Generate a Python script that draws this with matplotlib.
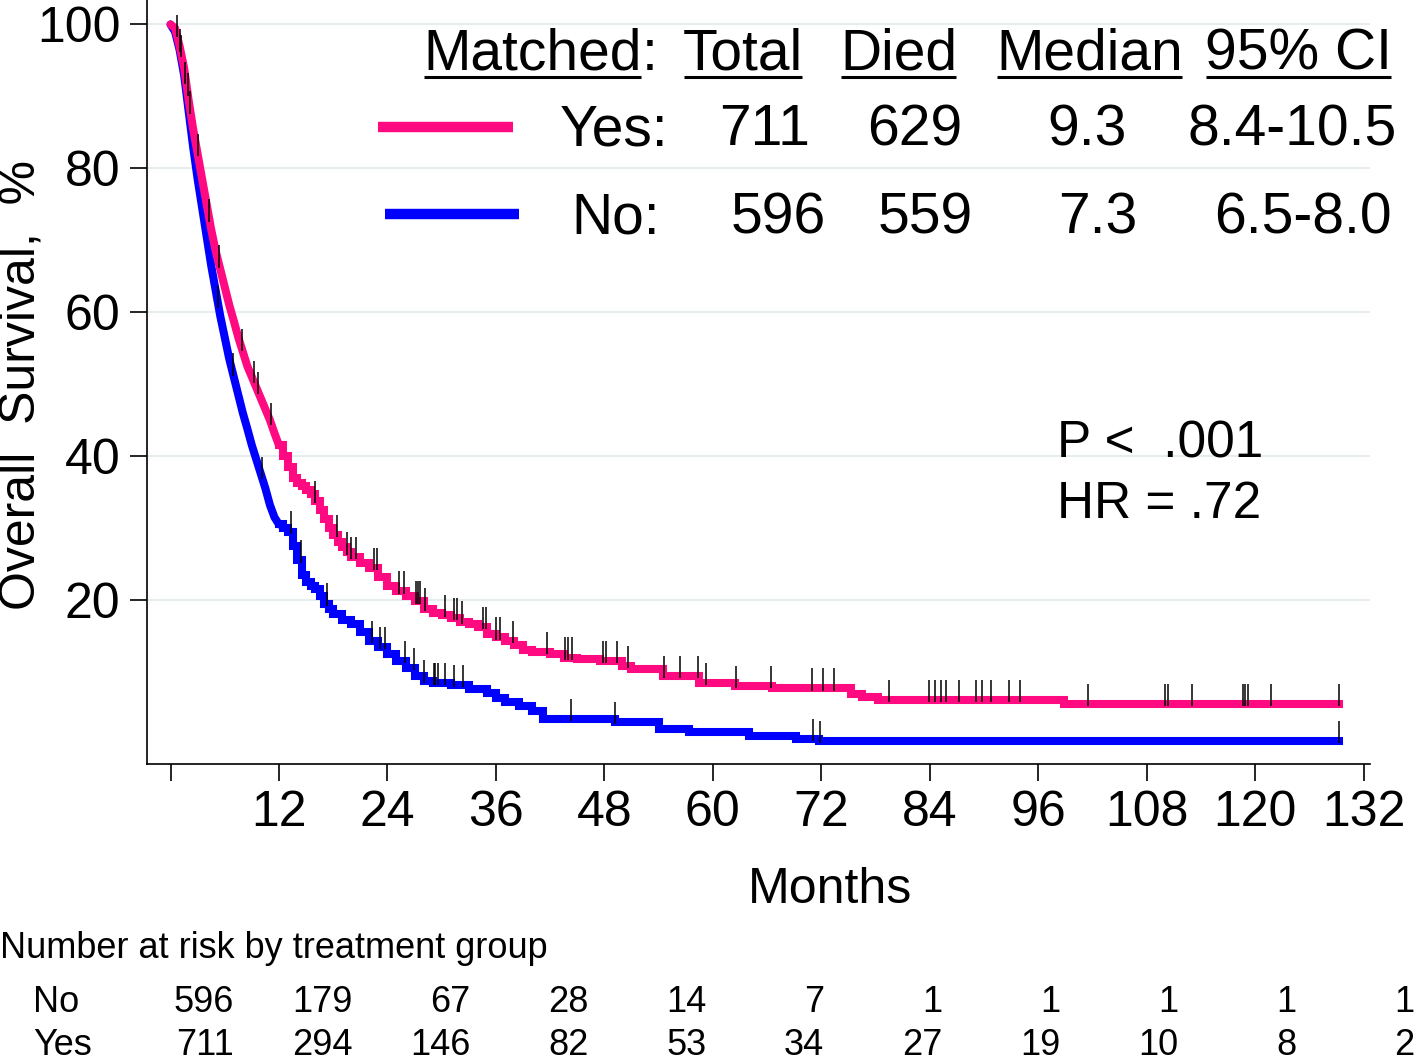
import numpy as np
import matplotlib
matplotlib.use("Agg")
import matplotlib.pyplot as plt

plt.rcParams["font.family"] = ["Liberation Sans", "DejaVu Sans"]

# --- survival curves (months, % surviving) ---
yes_time = [0, 0.5, 1.0, 1.5, 2.0, 2.5, 3.0, 3.5, 4.0, 4.5, 5.0, 5.5, 6.0, 6.5,
            7.0, 7.5, 8.0, 8.5, 9.0, 9.5, 10.0, 10.5, 11.0, 11.5, 12.0, 12.5,
            13.0, 13.5, 14.0, 14.5, 15.0, 15.5, 16.0, 16.5, 17.0, 17.5, 18.0,
            18.5, 19.0, 19.5, 20.0, 21.0, 22.0, 23.0, 24.0, 25.0, 26.0, 27.0,
            28.0, 29.0, 30.0, 31.0, 32.0, 33.0, 34.0, 35.0, 36.0, 37.0, 38.0,
            39.0, 40.0, 42.0, 43.5, 45.0, 47.5, 50.0, 51.0, 54.5, 58.5, 62.5,
            66.5, 75.3, 76.5, 78.3, 98.9, 129.3]
yes_surv = [100, 99.5, 97, 94, 89.5, 85.5, 82, 78.5, 75, 71.5, 68.5, 66, 63.5, 61,
            58.8, 56.5, 54.5, 52.5, 51, 49.5, 48, 46.5, 45, 43.2, 41.5, 40,
            38.5, 37, 36.3, 35.8, 35.3, 34.8, 33.8, 32.5, 31.2, 30, 29,
            28, 27.3, 26.6, 26, 25.2, 24.4, 23.2, 22, 21.2, 20.6, 19.8,
            18.8, 18.2, 17.9, 17.5, 17.0, 16.6, 16.2, 15.3, 14.8, 14.3, 13.7,
            13.0, 12.8, 12.5, 12.0, 11.8, 11.5, 10.8, 10.4, 9.4, 8.5, 8.0,
            7.7, 6.9, 6.5, 6.1, 5.5, 5.5]

no_time = [0, 0.5, 1.0, 1.5, 2.0, 2.5, 3.0, 3.5, 4.0, 4.5, 5.0, 5.5, 6.0, 6.5,
           7.0, 7.5, 8.0, 8.5, 9.0, 9.5, 10.0, 10.5, 11.0, 11.5, 12.0, 12.5,
           13.0, 13.5, 14.0, 14.5, 15.0, 15.5, 16.0, 16.5, 17.0, 17.5, 18.0,
           19.0, 20.0, 21.0, 22.0, 23.0, 24.0, 25.0, 26.0, 27.0, 28.0, 29.0,
           31.0, 33.0, 35.0, 36.0, 37.0, 38.5, 40.0, 41.2, 49.2, 54.0, 57.4,
           64.0, 69.2, 71.7, 129.3]
no_surv = [100, 99, 96.5, 93, 88, 83, 78.5, 74.5, 70.5, 66.5, 63, 59.5, 56.5, 53.5,
           51, 48.5, 46, 43.8, 41.5, 39.5, 37.5, 35.5, 33.2, 31.5, 30.5, 30,
           29.5, 27.5, 25.5, 23.5, 22.5, 22, 21.5, 20.5, 19.5, 18.8, 18.0,
           17.2, 16.6, 15.5, 14.3, 13.5, 12.5, 11.5, 10.5, 9.5, 8.8, 8.5,
           8.2, 7.6, 7.0, 6.4, 5.8, 5.2, 4.6, 3.5, 3.0, 2.0, 1.6,
           1.1, 0.7, 0.4, 0.4]

# censoring times (months)
yes_cens = [0.7, 1.2, 1.9, 2.2, 3.0, 4.3, 5.4, 7.9, 9.2, 9.7, 11.1, 16.0, 18.4,
            19.5, 20.0, 20.5, 22.5, 22.9, 25.3, 25.8, 27.2, 27.4, 27.6, 28.2,
            30.4, 31.4, 31.7, 32.2, 34.6, 34.9, 36.0, 36.4, 37.9, 41.7, 43.6,
            44.0, 44.4, 47.9, 48.2, 49.4, 50.6, 54.6, 56.4, 58.4, 59.2, 62.6,
            66.4, 71.0, 72.2, 73.4, 79.5, 83.9, 84.6, 85.2, 85.8, 87.2, 89.1,
            89.8, 90.8, 92.8, 94.0, 101.5, 110.0, 110.3, 113.0, 118.6, 118.9,
            119.2, 121.8, 129.3]
no_cens = [1.0, 1.6, 5.3, 6.9, 10.1, 13.3, 14.4, 17.3, 22.3, 23.2, 23.7, 25.9,
           26.9, 28.0, 29.1, 29.3, 29.6, 30.4, 31.4, 32.4, 44.3, 49.2, 71.1,
           71.8, 129.3]

# legend table
legend_header = ["Total", "Died", "Median", "95% CI"]
yes_stats = ["711", "629", "9.3", "8.4-10.5"]
no_stats = ["596", "559", "7.3", "6.5-8.0"]
p_text = "P <  .001"
hr_text = "HR = .72"

# number at risk
risk_months = [0, 12, 24, 36, 48, 60, 72, 84, 96, 108, 120]
risk_no = [596, 179, 67, 28, 14, 7, 1, 1, 1, 1, 1]
risk_yes = [711, 294, 146, 82, 53, 34, 27, 19, 10, 8, 2]

PINK = "#ff0a80"
BLUE = "#0000ff"
W, H = 1418, 1064
SMOOTH_UNTIL = 12.0  # dense events early on: the drop looks continuous

fig = plt.figure(figsize=(W / 100, H / 100), dpi=100)
ax = fig.add_axes([147 / W, 1 - 764 / H, (1370 - 147) / W, 764 / H])


def draw_curve(times, survs, color, z):
    t = np.asarray(times)
    s = np.asarray(survs)
    k = np.searchsorted(t, SMOOTH_UNTIL, side="right")
    ax.plot(t[:k], s[:k], color=color, lw=5.8, solid_joinstyle="round",
            solid_capstyle="round", zorder=z)
    ax.plot(t[k - 1:], s[k - 1:], drawstyle="steps-post", color=color, lw=5.8,
            solid_joinstyle="miter", zorder=z)


def surv_at(times, survs, t):
    times = np.asarray(times)
    survs = np.asarray(survs)
    t = np.asarray(t)
    step = survs[np.searchsorted(times, t, side="right") - 1]
    return np.where(t < SMOOTH_UNTIL, np.interp(t, times, survs), step)


draw_curve(no_time, no_surv, BLUE, 3)
draw_curve(yes_time, yes_surv, PINK, 4)

# censoring ticks
for tt, ss, cc in [(no_time, no_surv, no_cens), (yes_time, yes_surv, yes_cens)]:
    s = surv_at(tt, ss, cc)
    ax.vlines(cc, s - 0.3, s + 2.8, color="black", lw=1.1, zorder=5)

ax.set_xlim(-2.6, 132.7)
ax.set_ylim(-2.8, 103.4)
ax.set_xticks(np.arange(0, 133, 12))
ax.set_xticklabels([""] + [str(v) for v in range(12, 133, 12)])
ax.set_yticks([20, 40, 60, 80, 100])
ax.tick_params(direction="out", length=12, width=1.2, labelsize=36, pad=7)
ax.grid(axis="y", color="#e3ecee", lw=1.3)
ax.set_axisbelow(True)
for side in ["top", "right"]:
    ax.spines[side].set_visible(False)
for side in ["left", "bottom"]:
    ax.spines[side].set_linewidth(1.2)

# overlay in pixel coordinates for text blocks
ov = fig.add_axes([0, 0, 1, 1])
ov.set_xlim(0, W)
ov.set_ylim(H, 0)
ov.axis("off")

fig.text(22 / W, 1 - 385 / H, "Overall  Survival,  %", rotation=90,
         ha="center", va="center", fontsize=36)
ov.text(830, 903, "Months", ha="center", va="baseline", fontsize=36)

# legend
LF = 41
t_matched = ov.text(423, 70, "Matched", ha="left", va="baseline", fontsize=LF)
head_x = [683, 840, 996, 1205]
head_texts = [ov.text(x, 70, lab, ha="left", va="baseline", fontsize=LF)
              for x, lab in zip(head_x, legend_header)]
fig.canvas.draw()
rend = fig.canvas.get_renderer()
bb = t_matched.get_window_extent(rend)
ov.text(bb.x1, 70, ":", ha="left", va="baseline", fontsize=LF)
for t in [t_matched] + head_texts:
    b = t.get_window_extent(rend)
    ov.plot([b.x0 + 1, b.x1 - 1], [77, 77], color="black", lw=2.2,
            solid_capstyle="butt")

ov.plot([378, 513], [127, 127], color=PINK, lw=7.5, solid_capstyle="butt")
ov.plot([385, 519], [214, 214], color=BLUE, lw=7.5, solid_capstyle="butt")
ov.text(668, 145, "Yes:", ha="right", va="baseline", fontsize=LF)
ov.text(660, 234, "No:", ha="right", va="baseline", fontsize=LF)
for x, v in zip([810, 962, 1127, 1397], yes_stats):
    ov.text(x, 145, v, ha="right", va="baseline", fontsize=LF)
for x, v in zip([826, 973, 1137, 1392], no_stats):
    ov.text(x, 234, v, ha="right", va="baseline", fontsize=LF)

ov.text(1057, 458, p_text, ha="left", va="baseline", fontsize=37)
ov.text(1057, 518, hr_text, ha="left", va="baseline", fontsize=37)

# number at risk table
ov.text(0, 958, "Number at risk by treatment group", ha="left",
        va="baseline", fontsize=26)
ov.text(33, 1012, "No", ha="left", va="baseline", fontsize=26)
ov.text(33, 1055, "Yes", ha="left", va="baseline", fontsize=26)

tab = fig.add_axes([0, 0, 1, 1])
tab.set_xlim(-23.84, 120.4)
tab.set_ylim(H, 0)
tab.axis("off")
for m, n in zip(risk_months, risk_no):
    tab.text(m, 1012, str(n), ha="right", va="baseline", fontsize=26)
for m, n in zip(risk_months, risk_yes):
    tab.text(m, 1055, str(n), ha="right", va="baseline", fontsize=26)

fig.savefig("out.png", dpi=100)
